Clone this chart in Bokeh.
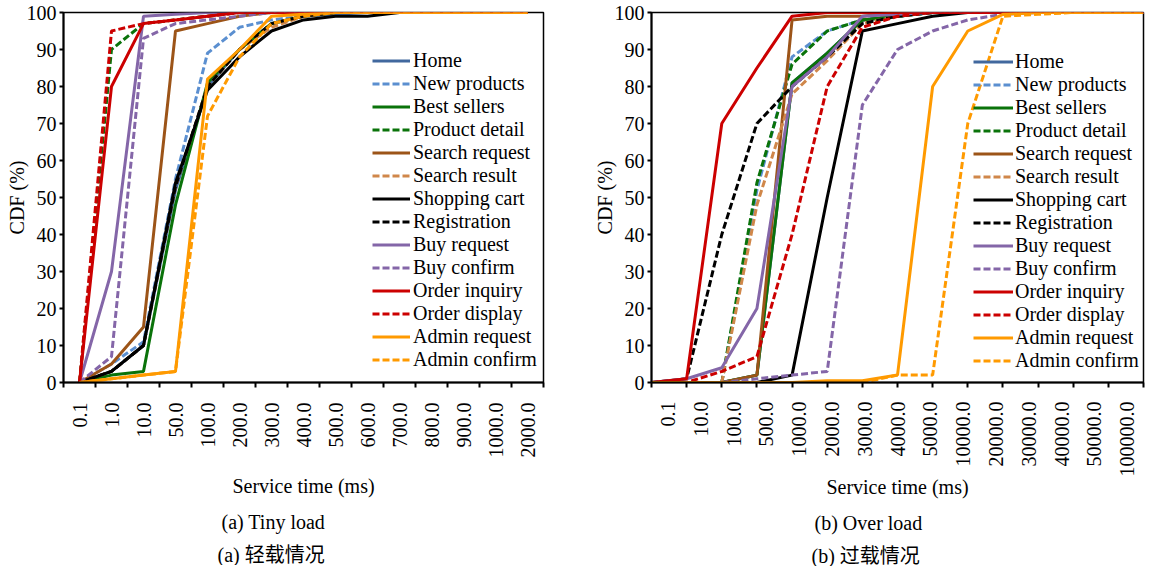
import math
from bokeh.plotting import figure
from bokeh.models import Range1d, FixedTicker, Legend, LegendItem, Title
from bokeh.layouts import row
from bokeh.embed import file_html
from bokeh.resources import INLINE

FONT = "Liberation Serif"
CJK_FONT = "Liberation Serif, Noto Sans CJK SC"

series_names = ["Home", "New products", "Best sellers", "Product detail",
                "Search request", "Search result", "Shopping cart", "Registration",
                "Buy request", "Buy confirm", "Order inquiry", "Order display",
                "Admin request", "Admin confirm"]
series_colors = ["#41689E", "#5B8FD0", "#0A730A", "#0A730A",
                 "#9C5418", "#D0874A", "#000000", "#000000",
                 "#8466A8", "#8466A8", "#CC0000", "#CC0000",
                 "#FF9A00", "#FF9A00"]
series_dashes = ["solid", "7 3", "solid", "7 3", "solid", "7 3", "solid", "7 3",
                 "solid", "7 3", "solid", "7 3", "solid", "7 3"]

# ---------------- (a) Tiny load ----------------
tiny_categories = ["0.1", "1.0", "10.0", "50.0", "100.0", "200.0", "300.0", "400.0",
                   "500.0", "600.0", "700.0", "800.0", "900.0", "1000.0", "2000.0"]
tiny_home           = [0, 3, 10, 52, 80, 90, 97, 99, 99.5, 100, 100, 100, 100, 100, 100]
tiny_new_products   = [0, 5, 11, 55, 89, 96, 98, 99, 100, 100, 100, 100, 100, 100, 100]
tiny_best_sellers   = [0, 2, 3, 48, 81, 90, 97, 99, 100, 100, 100, 100, 100, 100, 100]
tiny_product_detail = [0, 90, 97, 98, 99, 100, 100, 100, 100, 100, 100, 100, 100, 100, 100]
tiny_search_request = [0, 5, 15, 95, 97, 99, 100, 100, 100, 100, 100, 100, 100, 100, 100]
tiny_search_result  = [0, 3, 10, 53, 80, 90, 96, 99, 100, 100, 100, 100, 100, 100, 100]
tiny_shopping_cart  = [0, 3, 10, 54, 79, 88, 95, 98, 99, 99, 100, 100, 100, 100, 100]
tiny_registration   = [0, 3, 10, 53, 80, 90, 97, 99, 100, 100, 100, 100, 100, 100, 100]
tiny_buy_request    = [0, 30, 99, 99.5, 100, 100, 100, 100, 100, 100, 100, 100, 100, 100, 100]
tiny_buy_confirm    = [0, 7, 93, 97, 98, 99, 100, 100, 100, 100, 100, 100, 100, 100, 100]
tiny_order_inquiry  = [0, 80, 97, 98, 99, 100, 100, 100, 100, 100, 100, 100, 100, 100, 100]
tiny_order_display  = [0, 95, 97, 98, 99, 100, 100, 100, 100, 100, 100, 100, 100, 100, 100]
tiny_admin_request  = [0, 1, 2, 3, 82, 90, 99, 99.5, 100, 100, 100, 100, 100, 100, 100]
tiny_admin_confirm  = [0, 1, 2, 3, 72, 88, 97, 99, 100, 100, 100, 100, 100, 100, 100]

# ---------------- (b) Over load ----------------
over_categories = ["0.1", "10.0", "100.0", "500.0", "1000.0", "2000.0", "3000.0", "4000.0",
                   "5000.0", "10000.0", "20000.0", "30000.0", "40000.0", "50000.0", "100000.0"]
over_home           = [0, 0, 0, 2, 81, 89, 98, 99, 100, 100, 100, 100, 100, 100, 100]
over_new_products   = [0, 0, 0, 52, 88, 95, 98, 99, 100, 100, 100, 100, 100, 100, 100]
over_best_sellers   = [0, 0, 0, 2, 81, 89, 98, 99, 100, 100, 100, 100, 100, 100, 100]
over_product_detail = [0, 0, 0, 54, 86, 95, 98, 99, 100, 100, 100, 100, 100, 100, 100]
over_search_request = [0, 0, 0, 2, 98, 99, 99, 100, 100, 100, 100, 100, 100, 100, 100]
over_search_result  = [0, 0, 0, 48, 78, 87, 97, 99, 100, 100, 100, 100, 100, 100, 100]
over_shopping_cart  = [0, 0, 0, 0, 2, 50, 95, 97, 99, 100, 100, 100, 100, 100, 100]
over_registration   = [0, 1, 40, 70, 80, 88, 97, 99, 100, 100, 100, 100, 100, 100, 100]
over_buy_request    = [0, 1, 4, 20, 80, 88, 99, 99.5, 100, 100, 100, 100, 100, 100, 100]
over_buy_confirm    = [0, 0, 0, 1, 2, 3, 75, 90, 95, 98, 99.5, 100, 100, 100, 100]
over_order_inquiry  = [0, 1, 70, 85, 99, 100, 100, 100, 100, 100, 100, 100, 100, 100, 100]
over_order_display  = [0, 0, 3, 7, 40, 80, 96, 99, 100, 100, 100, 100, 100, 100, 100]
over_admin_request  = [0, 0, 0, 0, 0, 0.5, 0.5, 2, 80, 95, 99.5, 100, 100, 100, 100]
over_admin_confirm  = [0, 0, 0, 0, 0, 0, 0, 2, 2, 70, 99, 99.5, 100, 100, 100]

tiny_series = [tiny_home, tiny_new_products, tiny_best_sellers, tiny_product_detail,
               tiny_search_request, tiny_search_result, tiny_shopping_cart, tiny_registration,
               tiny_buy_request, tiny_buy_confirm, tiny_order_inquiry, tiny_order_display,
               tiny_admin_request, tiny_admin_confirm]
over_series = [over_home, over_new_products, over_best_sellers, over_product_detail,
               over_search_request, over_search_result, over_shopping_cart, over_registration,
               over_buy_request, over_buy_confirm, over_order_inquiry, over_order_display,
               over_admin_request, over_admin_confirm]

y_ticks = list(range(0, 101, 10))


def make_panel(categories, series, on_ticks, frame_w, left_border, right_border,
               label_standoff, xlabel_standoff, legend_loc, glyph_w, leg_standoff,
               cap1, cap2, cap1_off, cap2_off):
    n = len(categories)
    p = figure(frame_width=frame_w, frame_height=370,
               x_range=Range1d(-0.5, n - 0.5), y_range=Range1d(0, 100),
               output_backend="svg", toolbar_location=None,
               min_border_left=left_border, min_border_right=right_border,
               min_border_top=12, min_border_bottom=0,
               background_fill_color="white", border_fill_color="white")
    p.outline_line_color = "black"
    p.outline_line_width = 1.5
    p.outline_line_alpha = 1
    p.xgrid.visible = False
    p.ygrid.visible = False

    if on_ticks:
        p.extra_x_ranges = {"data": Range1d(0, n - 1)}
        xr = "data"
        tick_marks = [-0.5 + i * n / (n - 1) for i in range(n)]
    else:
        xr = "default"
        tick_marks = [i - 0.5 for i in range(n + 1)]

    xs = list(range(n))
    items = []
    for name, vals, col, dash in zip(series_names, series, series_colors, series_dashes):
        r = p.line(xs, vals, line_color=col, line_width=3, line_dash=dash,
                   x_range_name=xr)
        items.append(LegendItem(label=name, renderers=[r]))

    xa = p.xaxis[0]
    xa.ticker = FixedTicker(ticks=list(range(n)), minor_ticks=tick_marks)
    xa.major_label_overrides = {i: c for i, c in enumerate(categories)}
    xa.major_tick_out = 0
    xa.major_tick_in = 0
    xa.minor_tick_out = 5
    xa.minor_tick_in = 0
    xa.minor_tick_line_color = "black"
    xa.minor_tick_line_width = 2
    xa.axis_line_width = 2
    xa.axis_line_color = "black"
    xa.major_label_orientation = math.pi / 2
    xa.major_label_standoff = label_standoff
    xa.major_label_text_font = FONT
    xa.major_label_text_font_size = "20px"
    xa.major_label_text_color = "black"
    xa.axis_label = "Service time (ms)"
    xa.axis_label_standoff = xlabel_standoff
    xa.axis_label_text_font = FONT
    xa.axis_label_text_font_size = "20px"
    xa.axis_label_text_font_style = "normal"
    xa.axis_label_text_color = "black"

    ya = p.yaxis[0]
    ya.ticker = FixedTicker(ticks=y_ticks)
    ya.major_tick_out = 4
    ya.major_tick_in = 0
    ya.minor_tick_out = 0
    ya.minor_tick_in = 0
    ya.major_tick_line_width = 2
    ya.axis_line_width = 2
    ya.axis_line_color = "black"
    ya.major_label_standoff = 3
    ya.major_label_text_font = FONT
    ya.major_label_text_font_size = "20px"
    ya.major_label_text_color = "black"
    ya.axis_label = "CDF (%)"
    ya.axis_label_standoff = -4
    ya.axis_label_text_font = FONT
    ya.axis_label_text_font_size = "20px"
    ya.axis_label_text_font_style = "normal"
    ya.axis_label_text_color = "black"

    legend = Legend(items=items, location=legend_loc, padding=0, margin=0, spacing=0,
                    glyph_width=glyph_w, glyph_height=23, label_height=23,
                    label_standoff=leg_standoff, label_text_font=FONT,
                    label_text_font_size="20px", label_text_color="black",
                    border_line_alpha=0, background_fill_alpha=0)
    p.add_layout(legend)

    t1 = Title(text=cap1, align="left", offset=cap1_off, standoff=18,
               text_font=FONT, text_font_size="20px", text_font_style="normal",
               text_color="black")
    t2 = Title(text=cap2, align="left", offset=cap2_off, standoff=0,
               text_font=CJK_FONT, text_font_size="20px", text_font_style="normal",
               text_color="black")
    p.add_layout(t1, "below")
    p.add_layout(t2, "below")
    return p


p1 = make_panel(tiny_categories, tiny_series, False, 480, 63, 45,
                15, 14, (309, 11), 38, 3,
                "(a) Tiny load", "(a)  轻载情况", 158, 154)
p2 = make_panel(over_categories, over_series, True, 492, 63, 4,
                14, -4, (322, 10), 40, 2,
                "(b) Over load", "(b)  过载情况", 163, 160)

layout = row(p1, p2)
open("out.html", "w").write(file_html(layout, INLINE))
